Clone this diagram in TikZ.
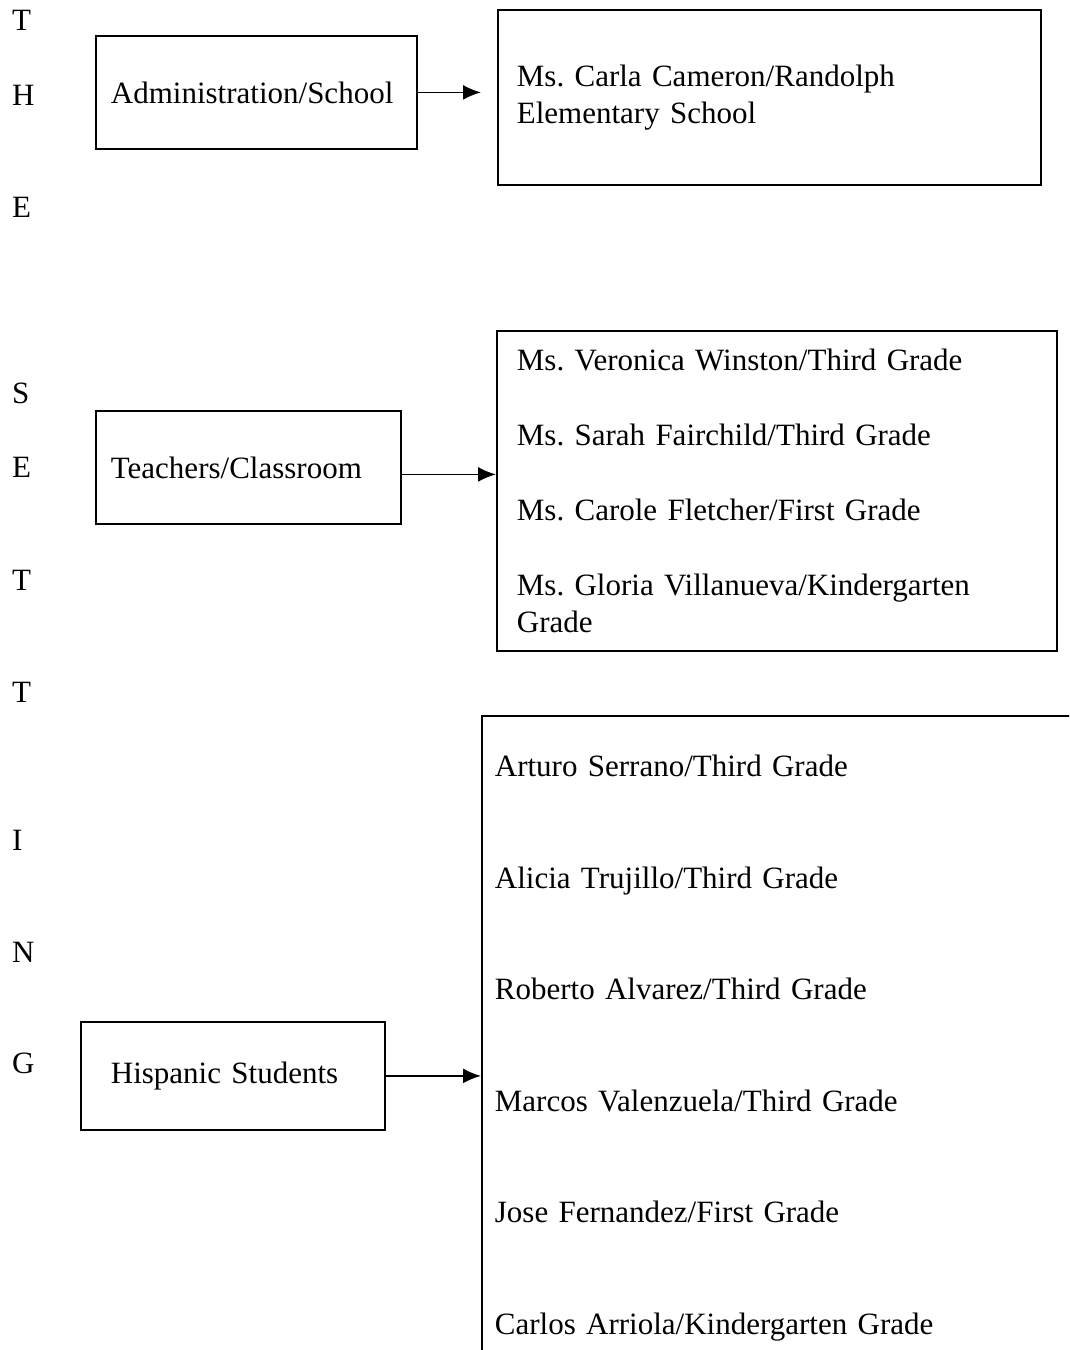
\documentclass[tikz,border=0pt]{standalone}
\usepackage{fontspec}
\setmainfont{Liberation Serif}
\usetikzlibrary{arrows.meta,positioning}
\tikzset{
  set letter/.style={
    anchor=base west,
    inner sep=0pt,
    font=\fontsize{31}{37}\selectfont
  },
  set box/.style={
    draw,
    line width=1.8pt,
    anchor=north west,
    align=left,
    inner xsep=15pt,
    inner ysep=0pt,
    font=\fontsize{31}{37}\selectfont\frenchspacing
  },
  set list/.style={
    draw,
    line width=1.8pt,
    anchor=north west,
    align=left,
    text width=640pt,
    inner xsep=13pt,
    inner ysep=39pt,
    font=\fontsize{31}{111.6}\selectfont\frenchspacing
  },
  set flow/.style={-{Latex[length=18pt,width=15pt]},line width=1.8pt}
}
\begin{document}
\begin{tikzpicture}[x=1pt,y=-1pt]
  \useasboundingbox (0,0) rectangle (1069,1350);
  \clip (0,0) rectangle (1069,1350);

  \node[set letter] (t1) at (12,30) {T};
  \node[set letter] (h1) at (12,105) {H};
  \node[set letter] (e1) at (12,217) {E};
  \node[set letter] (s2) at (12,403) {S};
  \node[set letter] (e2) at (12,477) {E};
  \node[set letter] (t2) at (12,590) {T};
  \node[set letter] (t3) at (12,702) {T};
  \node[set letter] (i2) at (12,850) {I};
  \node[set letter] (n2) at (12,962) {N};
  \node[set letter] (g2) at (12,1073) {G};

  \node[set box,text width=291pt,minimum height=113pt] (admin) at (95,35) {Administration/School};
  \node[set box,text width=505pt,minimum height=175pt,inner xsep=19pt] (principal) at (497,9) {Ms. Carla Cameron/Randolph\\Elementary School};

  \node[set box,text width=275pt,minimum height=113pt] (teachers) at (95,410) {Teachers/Classroom};
  \node[set box,text width=520pt,minimum height=320pt,inner xsep=20pt] (staff) at (496,330) {Ms. Veronica Winston/Third Grade\\[38pt]Ms. Sarah Fairchild/Third Grade\\[38pt]Ms. Carole Fletcher/First Grade\\[38pt]Ms. Gloria Villanueva/Kindergarten\\Grade};

  \node[set box,text width=244pt,minimum height=108pt,inner xsep=30pt] (students) at (80,1021) {Hispanic Students};
  \node[set list] (pupils) at (481,715) {Arturo Serrano/Third Grade\\Alicia Trujillo/Third Grade\\Roberto Alvarez/Third Grade\\Marcos Valenzuela/Third Grade\\Jose Fernandez/First Grade\\Carlos Arriola/Kindergarten Grade};

  \draw[set flow,shorten >=16pt] (admin.east) -- (admin.east -| principal.west);
  \draw[set flow] ([yshift=-7pt]teachers.east) -- ([yshift=-7pt]teachers.east -| staff.west);
  \draw[set flow] (students.east) -- (students.east -| pupils.west);
\end{tikzpicture}
\end{document}
